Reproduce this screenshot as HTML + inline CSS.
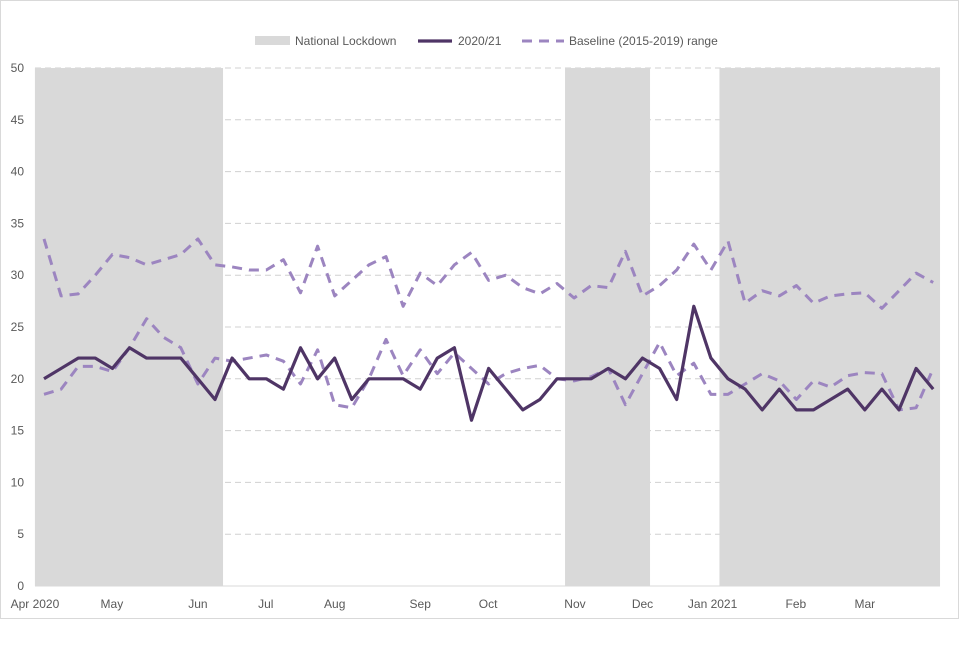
<!DOCTYPE html>
<html><head><meta charset="utf-8"><style>
body{margin:0;background:#fff;font-family:"Liberation Sans",sans-serif}
svg text{font-family:"Liberation Sans",sans-serif;font-size:12px;fill:#595959}
</style></head><body>
<svg id="c" width="960" height="640">
<rect x="0.5" y="0.5" width="958" height="618" fill="#fff" stroke="#d9d9d9"/>
</svg>
<script>
const main=[20,21,22,22,21,23,22,22,22,20,18,22,20,20,19,23,20,22,18,20,20,20,19,22,23,16,21,19,17,18,20,20,20,21,20,22,21,18,27,22,20,19,17,19,17,17,18,19,17,19,17,21,19];
const upper=[33.5,28,28.2,30,32,31.7,31,31.5,32,33.5,31,30.8,30.5,30.5,31.5,28.3,32.8,28,29.5,31,31.8,27,30.2,29,31,32.2,29.5,30,28.8,28.2,29.2,27.8,29,28.8,32.3,28,29,30.5,33,30.5,33.3,27.3,28.5,28,29,27.3,28,28.2,28.3,26.8,28.5,30.2,29.3];
const lower=[18.5,19,21.2,21.2,20.7,23,25.8,24,23,19.5,22,21.7,22,22.3,21.7,19.5,22.8,17.5,17.2,20,23.8,20.3,22.8,20.5,22.5,21,19.5,20.5,21,21.3,20,19.8,20.2,21,17.5,20.5,23.5,20.3,21.5,18.5,18.5,19.5,20.5,19.8,18,19.8,19.2,20.3,20.6,20.5,17,17.2,21];
const lockStart=[-0.53,30.47,39.5];
const lockEnd=[10.47,35.44,52.4];
const yTicks=[0,5,10,15,20,25,30,35,40,45,50];
const monthLabels=["Apr 2020","May","Jun","Jul","Aug","Sep","Oct","Nov","Dec","Jan 2021","Feb","Mar"];
const monthWeeks=[-0.53,3.97,9,12.97,17,22,25.97,31.05,35,39.1,43.97,48];
const svg=document.getElementById('c');const NS='http://www.w3.org/2000/svg';
const X=i=>44+i*17.1, Y=v=>586-v*10.36;
function mk(t,a){const e=document.createElementNS(NS,t);for(const k in a)e.setAttribute(k,a[k]);svg.appendChild(e);return e;}
yTicks.forEach(v=>{if(v>0){const g=mk('line',{x1:35,x2:940,y1:Y(v),y2:Y(v),stroke:'#d0d0d0','stroke-dasharray':'6,4'});

}
const t=mk('text',{x:24,y:Y(v)+4,'text-anchor':'end'});t.textContent=v;

});
for(let i=0;i<lockStart.length;i++){const r=mk('rect',{x:X(lockStart[i]),y:Y(50),width:X(lockEnd[i])-X(lockStart[i]),height:Y(0)-Y(50),fill:'#d9d9d9'});

}
mk('line',{x1:35,x2:940,y1:Y(0),y2:Y(0),stroke:'#d9d9d9'});
monthLabels.forEach((m,i)=>{const t=mk('text',{x:X(monthWeeks[i]),y:608,'text-anchor':'middle'});t.textContent=m;

});
function line(arr,stroke,w,dash,name){const p=mk('polyline',{points:arr.map((v,i)=>X(i)+','+Y(v)).join(' '),fill:'none',stroke:stroke,'stroke-width':w,'stroke-linejoin':'round'});if(dash)p.setAttribute('stroke-dasharray',dash);

}
line(upper,'#9c85c0',3,'10,7','baseline-upper-line');
line(lower,'#9c85c0',3,'10,7','baseline-lower-line');
line(main,'#4f3566',3.2,null,'series-2020-21-line');
const lg=mk('rect',{x:255,y:36,width:35,height:9,fill:'#d9d9d9'});


let t=mk('text',{x:295,y:45});t.textContent='National Lockdown';


let l=mk('line',{x1:418,x2:452,y1:41,y2:41,stroke:'#4f3566','stroke-width':3.2});


t=mk('text',{x:458,y:45});t.textContent='2020/21';


l=mk('line',{x1:522,x2:564,y1:41,y2:41,stroke:'#9c85c0','stroke-width':3,'stroke-dasharray':'10,7'});


t=mk('text',{x:569,y:45});t.textContent='Baseline (2015-2019) range';


</script>
</body></html>
